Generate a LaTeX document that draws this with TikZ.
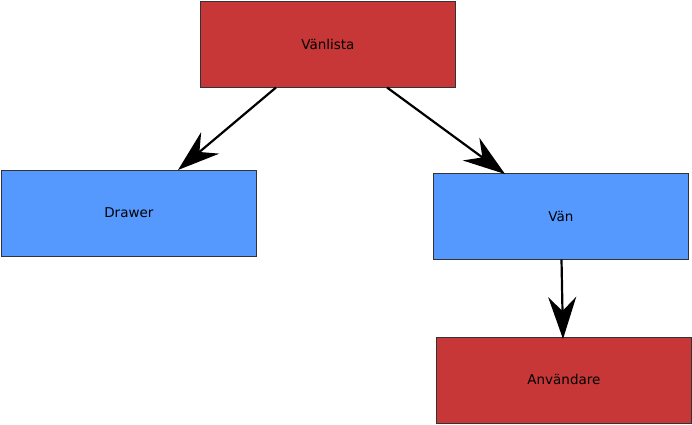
\documentclass[tikz,border=0pt]{standalone}
\usepackage{fontspec}
\setmainfont{DejaVu Sans}
\usetikzlibrary{arrows.meta}
\definecolor{boxred}{HTML}{C83737}
\definecolor{boxblue}{HTML}{5599FF}
\tikzset{
  box/.style={draw=black!80, line width=0.8pt, minimum width=255pt, minimum height=86pt, inner sep=0pt, font=\fontsize{13.5}{15}\selectfont, anchor=north west},
  redbox/.style={box, fill=boxred},
  bluebox/.style={box, fill=boxblue},
  conn/.style={line width=2.2pt, -{Stealth[length=42pt, width=28pt, inset=14pt]}}
}
\begin{document}
\begin{tikzpicture}[x=1pt, y=-1pt]
\useasboundingbox (0,0) rectangle (692,424);
\node[redbox] (vanlista) at (200,1) {Vänlista};
\node[bluebox] (drawer) at (1,169.5) {Drawer};
\node[bluebox] (van) at (433,173) {Vän};
\node[redbox] (anv) at (436,336.5) {Användare};
\coordinate (a1s) at (276,87.5);
\coordinate (a1e) at (178,170);
\coordinate (a2s) at (387,87.5);
\coordinate (a2e) at (505,174);
\coordinate (a3s) at (561.5,259.5);
\coordinate (a3e) at (563,339);
\draw[conn] (a1s) -- (a1e);
\draw[conn] (a2s) -- (a2e);
\draw[conn] (a3s) -- (a3e);
\end{tikzpicture}
\end{document}
